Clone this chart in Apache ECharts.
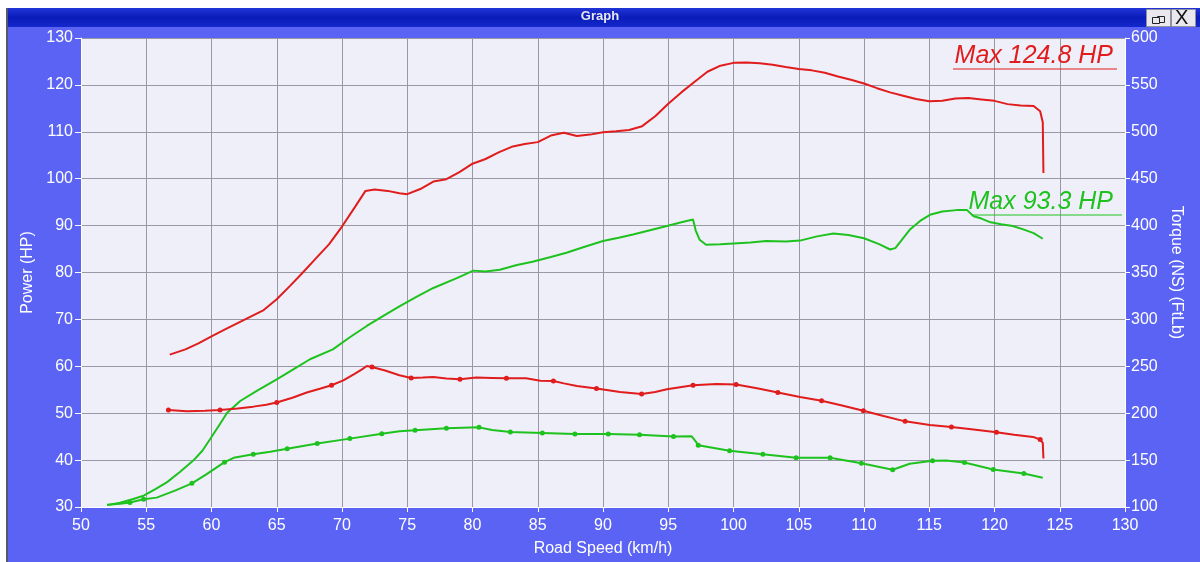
<!DOCTYPE html>
<html>
<head>
<meta charset="utf-8">
<script src="https://cdn.jsdelivr.net/npm/echarts@6/dist/echarts.min.js"></script>
<style>
  html, body { margin: 0; padding: 0; background: #ffffff; }
  #chart { width: 1200px; height: 562px; }
</style>
</head>
<body>
<div id="chart"></div>
<script>
// [road speed km/h, power HP]
const redPower = [[56.8, 62.5], [58, 63.6], [59, 64.9], [60, 66.4], [61, 67.8], [62, 69.2], [63, 70.6], [64, 72], [65, 74.3], [66, 77.1], [67, 80], [68, 83], [69, 86], [70, 89.8], [71, 94], [71.8, 97.4], [72.5, 97.7], [73.5, 97.4], [74.4, 96.9], [75, 96.7], [76, 97.8], [77, 99.4], [78, 99.9], [79, 101.4], [80, 103.2], [81, 104.2], [82, 105.6], [83, 106.8], [84, 107.4], [85, 107.8], [86, 109.2], [87, 109.8], [88, 109.1], [89, 109.4], [90, 109.9], [91, 110.1], [92, 110.4], [93, 111.2], [94, 113.3], [95, 116], [96, 118.4], [97, 120.6], [98, 122.8], [99, 124.1], [100, 124.7], [101, 124.8], [102, 124.6], [103, 124.3], [104, 123.8], [105, 123.4], [106, 123.1], [107, 122.6], [108, 121.8], [109, 121.1], [110, 120.3], [111, 119.3], [112, 118.4], [113, 117.7], [114, 117], [115, 116.5], [116, 116.6], [117, 117.1], [118, 117.2], [119, 116.9], [120, 116.6], [121, 115.9], [122, 115.6], [123, 115.5], [123.5, 114.4], [123.7, 112], [123.75, 101.2]];

const greenPower = [[52, 30.4], [53, 30.9], [54, 31.7], [54.8, 32.4], [55.7, 33.8], [56.6, 35.3], [57.6, 37.5], [58.6, 39.9], [59.3, 42], [59.9, 44.5], [60.6, 47.5], [61.2, 50.1], [62.2, 52.6], [63.5, 54.8], [65, 57.2], [66.3, 59.4], [67.55, 61.5], [69.3, 63.6], [70.6, 66.2], [71.9, 68.6], [73.2, 70.8], [74.4, 72.8], [75.7, 74.8], [77, 76.7], [78.8, 78.8], [80.07, 80.4], [81, 80.2], [82.1, 80.6], [83.4, 81.6], [84.6, 82.3], [86, 83.3], [87.2, 84.2], [88.6, 85.5], [90, 86.7], [91.2, 87.4], [92.3, 88.1], [93.6, 89], [94.9, 89.9], [96, 90.7], [96.9, 91.3], [97.1, 89], [97.4, 87], [97.9, 85.9], [99, 86], [100, 86.2], [101.3, 86.4], [102.5, 86.7], [104, 86.6], [105.1, 86.8], [106.4, 87.7], [107.65, 88.3], [108.8, 88], [110, 87.3], [111.2, 86], [112, 84.9], [112.4, 85.2], [113.5, 89.1], [114.3, 91], [115.05, 92.3], [116, 93], [117.1, 93.3], [117.9, 93.3], [118.4, 92], [119, 91.5], [119.7, 90.7], [120.5, 90.3], [121.4, 89.9], [122.2, 89.2], [123, 88.4], [123.7, 87.2]];

// [road speed km/h, torque]
const redTorque = [[56.7, 203.5], [58.1, 202.1], [59.5, 202.5], [60.65, 203.5], [62, 205], [63.2, 207], [64.2, 209], [65, 211.4], [66.2, 216.5], [67.3, 222], [68.3, 226], [69.2, 229.8], [70.1, 235], [70.9, 241.5], [71.5, 246.5], [71.9, 250.3], [72.3, 249.3], [73.3, 245.5], [74.4, 240.5], [75.3, 237.6], [76.2, 238], [77, 238.6], [78, 237], [79.04, 236.2], [80.3, 238], [81.5, 237.6], [82.6, 237.2], [84.1, 237.2], [85.2, 234.6], [86.2, 234.4], [87, 231.8], [88, 229], [89.5, 226.3], [91.3, 222.7], [92.96, 220.5], [94, 222.5], [94.9, 225.5], [96.9, 229.8], [98.7, 231.2], [100.2, 230.5], [101.8, 226.5], [103.4, 222], [105.1, 217.2], [106.75, 213.3], [108.4, 208], [109.95, 202.7], [111.5, 197], [113.15, 191.3], [115.05, 187.5], [116.7, 185.3], [118.4, 182.5], [120.15, 179.6], [121.5, 177], [122.95, 174.7], [123.5, 171.9], [123.7, 168.4], [123.75, 151.7]];

const greenTorque = [[52, 102.5], [53, 103.5], [53.75, 104.7], [54.8, 108.2], [55.8, 110], [57.2, 117.5], [58.5, 125.2], [59.6, 134.7], [61, 147.8], [61.7, 152.4], [63.2, 156.3], [64.5, 159], [65.8, 162], [68.1, 167.6], [70.6, 172.9], [73.05, 178.2], [74.4, 180.7], [75.6, 181.8], [78, 183.9], [80.5, 184.9], [81.5, 182], [82.9, 180], [85.35, 179], [87.85, 177.9], [90.4, 177.9], [92.8, 176.9], [95.4, 175.1], [96.8, 175.4], [97.1, 170], [97.3, 165.8], [99.7, 159.9], [102.25, 156.3], [104.8, 152.4], [107.4, 152.4], [109.8, 146.7], [112.2, 139.7], [113.5, 146.1], [115.25, 149.3], [116.3, 149.6], [117.7, 147.5], [119.9, 140], [122.25, 135.8], [123.7, 131.2]];

// speeds where the torque traces carry a dot
const redTorqueDots = [56.7, 60.65, 65, 69.2, 72.3, 75.3, 79.04, 82.6, 86.2, 89.5, 92.96, 96.9, 100.2, 103.4, 106.75, 109.95, 113.15, 116.7, 120.15, 123.5];
const greenTorqueDots = [53.75, 54.8, 58.5, 61, 63.2, 65.8, 68.1, 70.6, 73.05, 75.6, 78, 80.5, 82.9, 85.35, 87.85, 90.4, 92.8, 95.4, 97.3, 99.7, 102.25, 104.8, 107.4, 109.8, 112.2, 115.25, 117.7, 119.9, 122.25];

const redMax = "Max 124.8 HP";
const greenMax = "Max 93.3 HP";

const RED = "#e01c1c";
const GREEN = "#1ec21e";
const BG = "#5a63f4";

function withDots(points, dots, color) {
  return points.map(p => {
    if (dots.indexOf(p[0]) >= 0) {
      return { value: p, symbol: "circle", symbolSize: 5, itemStyle: { color: color } };
    }
    return { value: p };
  });
}

const chart = echarts.init(document.getElementById("chart"));

const axisText = { color: "#ffffff", fontSize: 16, fontFamily: "Liberation Sans" };
const nameText = { color: "#ffffff", fontSize: 16, fontFamily: "Liberation Sans" };

const option = {
  backgroundColor: BG,
  animation: false,
  grid: { left: 81, right: 75, top: 38, bottom: 54, show: true, backgroundColor: "#efeff9", borderWidth: 0 },
  xAxis: {
    type: "value",
    min: 50,
    max: 130,
    interval: 5,
    name: "Road Speed (km/h)",
    nameLocation: "middle",
    nameGap: 34,
    nameTextStyle: nameText,
    axisLine: { show: true, lineStyle: { color: "#ffffff", width: 1 } },
    axisTick: { show: true, length: 5, lineStyle: { color: "#ffffff" } },
    axisLabel: Object.assign({ margin: 11 }, axisText),
    splitLine: { show: true, lineStyle: { color: "#9898a6", width: 1 } }
  },
  yAxis: [
    {
      type: "value",
      min: 30,
      max: 130,
      interval: 10,
      position: "left",
      name: "Power (HP)",
      nameLocation: "middle",
      nameGap: 43,
      nameRotate: 90,
      nameTextStyle: nameText,
      axisLine: { show: true, lineStyle: { color: "#ffffff", width: 1 } },
      axisTick: { show: true, length: 6, lineStyle: { color: "#ffffff" } },
      axisLabel: Object.assign({ margin: 8 }, axisText),
      splitLine: { show: true, lineStyle: { color: "#9898a6", width: 1 } }
    },
    {
      type: "value",
      min: 100,
      max: 600,
      interval: 50,
      position: "right",
      name: "Torque (NS) (FtLb)",
      nameLocation: "middle",
      nameGap: 42,
      nameRotate: -90,
      nameTextStyle: nameText,
      axisLine: { show: true, lineStyle: { color: "#ffffff", width: 1 } },
      axisTick: { show: true, length: 5, lineStyle: { color: "#ffffff" } },
      axisLabel: Object.assign({ margin: 6 }, axisText),
      splitLine: { show: false }
    }
  ],
  series: [
    {
      name: "Power red",
      type: "line",
      yAxisIndex: 0,
      data: redPower,
      showSymbol: false,
      lineStyle: { color: RED, width: 2 }
    },
    {
      name: "Power green",
      type: "line",
      yAxisIndex: 0,
      data: greenPower,
      showSymbol: false,
      lineStyle: { color: GREEN, width: 2 }
    },
    {
      name: "Torque red",
      type: "line",
      yAxisIndex: 1,
      symbol: "none",
      showSymbol: true,
      showAllSymbol: true,
      data: withDots(redTorque, redTorqueDots, RED),
      lineStyle: { color: RED, width: 2 }
    },
    {
      name: "Torque green",
      type: "line",
      yAxisIndex: 1,
      symbol: "none",
      showSymbol: true,
      showAllSymbol: true,
      data: withDots(greenTorque, greenTorqueDots, GREEN),
      lineStyle: { color: GREEN, width: 2 }
    }
  ],
  graphic: [
    // window frame + title bar
    { type: "rect", left: 0, top: 0, shape: { width: 1200, height: 8 }, style: { fill: "#ffffff" }, z: 100 },
    { type: "rect", left: 0, top: 0, shape: { width: 6, height: 562 }, style: { fill: "#ffffff" }, z: 100 },
    { type: "rect", left: 6, top: 8, shape: { width: 2, height: 554 }, style: { fill: "#55586a" }, z: 100 },
    {
      type: "rect", left: 8, top: 8, shape: { width: 1192, height: 19 }, z: 100,
      style: {
        fill: new echarts.graphic.LinearGradient(0, 0, 0, 1, [
          { offset: 0, color: "#2236d8" },
          { offset: 0.5, color: "#0a1cb8" },
          { offset: 1, color: "#1428cc" }
        ])
      }
    },
    {
      type: "text", left: "center", top: 10, z: 101,
      style: { text: "Graph", fill: "#e8e8f0", font: "bold 13px 'Liberation Sans'" }
    },
    { type: "rect", left: 1146, top: 9, shape: { width: 24, height: 17 }, style: { fill: "#e8e8ee", stroke: "#9090a0" }, z: 101 },
    { type: "rect", left: 1171, top: 9, shape: { width: 24, height: 17 }, style: { fill: "#e8e8ee", stroke: "#9090a0" }, z: 101 },
    { type: "rect", left: 1155, top: 14, shape: { width: 7, height: 6 }, style: { fill: "none", stroke: "#222", lineWidth: 1 }, z: 102 },
    { type: "rect", left: 1152, top: 17, shape: { width: 7, height: 6 }, style: { fill: "#e8e8ee", stroke: "#222", lineWidth: 1 }, z: 103 },
    {
      type: "text", left: 1175, top: 8, z: 102,
      style: { text: "X", fill: "#111111", font: "20px 'Liberation Sans'" }
    },
    // max labels
    {
      type: "text", right: 87, top: 44, z: 50,
      style: { text: redMax, fill: RED, font: "italic 25px 'Liberation Sans'" }
    },
    { type: "line", shape: { x1: 953, y1: 69, x2: 1117, y2: 69 }, style: { stroke: RED, lineWidth: 1 }, z: 50 },
    {
      type: "text", right: 87, top: 190, z: 50,
      style: { text: greenMax, fill: GREEN, font: "italic 25px 'Liberation Sans'" }
    },
    { type: "line", shape: { x1: 972, y1: 215, x2: 1122, y2: 215 }, style: { stroke: GREEN, lineWidth: 1 }, z: 50 }
  ]
};

chart.setOption(option);
</script>
</body>
</html>
